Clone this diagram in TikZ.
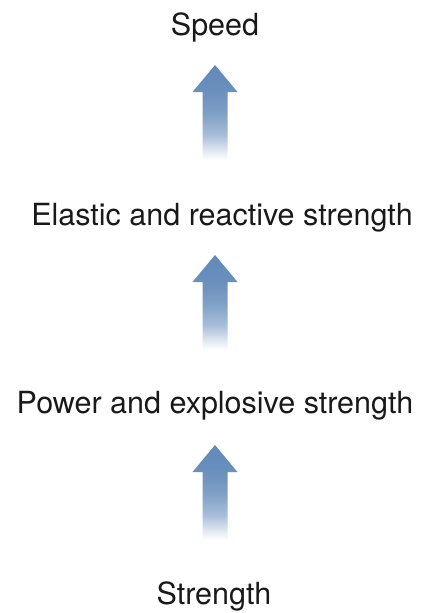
\documentclass[tikz,border=0pt]{standalone}
\usepackage{fontspec}
\setmainfont{TeX Gyre Heros}
\definecolor{ablue}{RGB}{97,137,185}
\definecolor{txt}{RGB}{25,25,25}
\pgfdeclareverticalshading{arrowfade}{100bp}{color(0bp)=(white); color(25bp)=(white); color(29bp)=(ablue!15); color(38bp)=(ablue!55); color(50bp)=(ablue!82); color(62bp)=(ablue!95); color(75bp)=(ablue); color(100bp)=(ablue)}
\tikzset{
  lbl/.style={anchor=base, inner sep=0pt, text=txt, font=\fontsize{30.5pt}{36pt}\selectfont},
  uparrow/.style={shading=arrowfade, draw=none}
}
\newcommand{\UpArrow}[2]{% x, tip y (in pt, downward positive)
  \shade[uparrow] (#1pt-12.5pt,-#2pt-95pt) -- (#1pt-12.5pt,-#2pt-27pt) -- (#1pt-22.5pt,-#2pt-27pt)
    -- (#1pt,-#2pt) -- (#1pt+22.5pt,-#2pt-27pt) -- (#1pt+12.5pt,-#2pt-27pt) -- (#1pt+12.5pt,-#2pt-95pt) -- cycle;}
\begin{document}
\begin{tikzpicture}[x=1pt,y=1pt]
\useasboundingbox (0,0) rectangle (422,-613);
\node[lbl] (speed) at (215,-35) {Speed};
\node[lbl] (elastic) at (222,-225) {Elastic and reactive strength};
\node[lbl] (power) at (215,-413) {Power and explosive strength};
\node[lbl] (strength) at (214,-604) {Strength};
\UpArrow{215}{65}
\UpArrow{215}{255}
\UpArrow{215}{445}
\end{tikzpicture}
\end{document}
